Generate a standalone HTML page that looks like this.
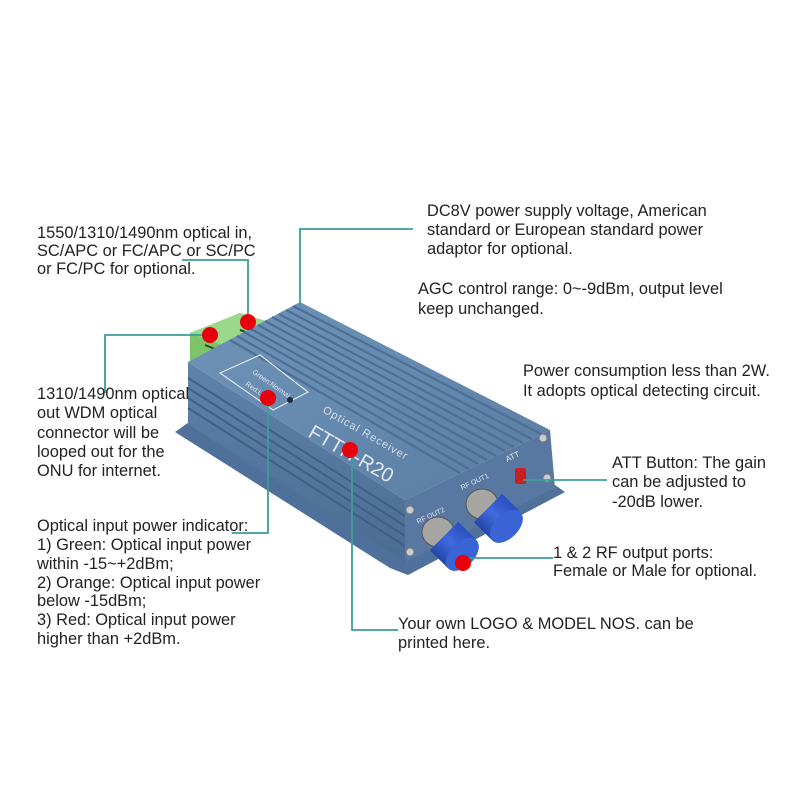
<!DOCTYPE html>
<html><head><meta charset="utf-8"><style>
html,body{margin:0;padding:0;background:#fff;}
svg{display:block}
text{font-family:"Liberation Sans",Arial,sans-serif;fill:#222;}
.t{font-size:16.4px;}
</style></head><body>
<svg width="800" height="800" viewBox="0 0 800 800" xmlns="http://www.w3.org/2000/svg">
<defs>
<linearGradient id="top" x1="0" y1="0" x2="1" y2="1">
<stop offset="0" stop-color="#7094b9"/><stop offset="1" stop-color="#5a7ca3"/></linearGradient>
<linearGradient id="side" x1="0" y1="0" x2="0" y2="1">
<stop offset="0" stop-color="#5f82aa"/><stop offset="1" stop-color="#4b6b92"/></linearGradient>
<linearGradient id="cap" x1="0" y1="0" x2="0" y2="1">
<stop offset="0" stop-color="#2a4fc0"/><stop offset="0.5" stop-color="#3f6ae0"/><stop offset="1" stop-color="#2446a8"/></linearGradient>
</defs>

<!-- flange -->
<polygon points="175,432 192,420 410,558 555,485 565,492 408,575 390,568" fill="#4f709a"/>
<polygon points="222,462 232,468 226,474 216,468" fill="#fff"/>
<polygon points="292,508 302,514 296,520 286,514" fill="#fff"/>
<!-- green connector -->
<polygon points="190,333 240,313 272,323 272,336 205,368 190,362" fill="#7cc36a"/>
<polygon points="190,333 240,313 272,323 222,345" fill="#9bd98a"/>
<line x1="205" y1="345" x2="230" y2="355" stroke="#2c4a2a" stroke-width="2"/>
<line x1="240" y1="330" x2="262" y2="338" stroke="#2c4a2a" stroke-width="2"/>
<!-- side face -->
<polygon points="188,362 405,500 405,562 188,424" fill="url(#side)"/>
<g stroke="#3f5f86" stroke-width="2">
<line x1="188" y1="378" x2="405" y2="516"/><line x1="188" y1="388" x2="405" y2="526"/>
<line x1="188" y1="398" x2="405" y2="536"/><line x1="188" y1="408" x2="405" y2="546"/>
</g>
<!-- top face -->
<polygon points="188,362 300,302 550,430 405,500" fill="url(#top)"/>
<g stroke="#4d6f97" stroke-width="2.2">
<line x1="293" y1="306" x2="541" y2="434"/><line x1="286" y1="310" x2="532" y2="439"/>
<line x1="279" y1="314" x2="523" y2="443"/><line x1="272" y1="317" x2="514" y2="447"/>
<line x1="265" y1="321" x2="505" y2="451"/><line x1="258" y1="325" x2="496" y2="456"/>
<line x1="251" y1="329" x2="487" y2="460"/><line x1="244" y1="332" x2="478" y2="464"/>
<line x1="237" y1="336" x2="469" y2="469"/><line x1="230" y1="340" x2="460" y2="473"/>
</g>
<!-- front face -->
<polygon points="405,500 550,430 555,488 405,562" fill="#5878a2"/>
<!-- label -->
<polygon points="220,373 260,355 308,392 273,410" fill="none" stroke="#dfe6ef" stroke-width="1.2"/>
<text transform="translate(252,373) rotate(35)" style="font-size:7px;fill:#dfe6ef">Green:Normal</text>
<text transform="translate(245,385) rotate(35)" style="font-size:7px;fill:#dfe6ef">Red:Lo</text>
<circle cx="290" cy="400" r="3" fill="#1c2a3a"/>
<text transform="translate(322,412) rotate(30)" style="font-size:11px;fill:#d6dde8;letter-spacing:1px">Optical Receiver</text>
<text transform="translate(307,436) rotate(30)" style="font-size:20px;fill:#e3e8f0">FTTH-R20</text>
<!-- screws -->
<circle cx="543" cy="438" r="4" fill="#c9ccd0" stroke="#777"/>
<circle cx="547" cy="478" r="4" fill="#c9ccd0" stroke="#777"/>
<circle cx="410" cy="510" r="4" fill="#c9ccd0" stroke="#777"/>
<circle cx="410" cy="552" r="4" fill="#c9ccd0" stroke="#777"/>
<text transform="translate(507,462) rotate(-25)" style="font-size:8px;fill:#e3e8f0">ATT</text>
<rect x="515" y="468" width="11" height="16" rx="2" fill="#c62020"/>
<text transform="translate(462,490) rotate(-25)" style="font-size:7px;fill:#e3e8f0">RF OUT1</text>
<text transform="translate(418,524) rotate(-25)" style="font-size:7px;fill:#e3e8f0">RF OUT2</text>
<!-- ports -->
<ellipse cx="482" cy="504" rx="16" ry="15" fill="#a5a5a2" stroke="#555"/>
<ellipse cx="438" cy="532" rx="16" ry="15" fill="#a5a5a2" stroke="#555"/>
<g transform="translate(488,508) rotate(45)">
<rect x="0" y="-20" width="26" height="40" fill="url(#cap)"/>
<ellipse cx="26" cy="0" rx="12" ry="20" fill="#3a64d6"/>
</g>
<g transform="translate(444,536) rotate(45)">
<rect x="0" y="-20" width="26" height="40" fill="url(#cap)"/>
<ellipse cx="26" cy="0" rx="12" ry="20" fill="#3a64d6"/>
</g>

<!-- connectors -->
<g stroke="#3b9e96" stroke-width="1.8" fill="none">
<polyline points="182,260 248,260 248,320"/>
<polyline points="105,393 105,335 210,335"/>
<polyline points="300,306 300,229 413,229"/>
<polyline points="268,398 268,533 232,533"/>
<polyline points="352,450 352,630 398,630"/>
<polyline points="523,480 607,480"/>
<polyline points="463,558 553,558"/>
</g>
<g fill="#e8000c">
<circle cx="248" cy="322" r="8"/><circle cx="210" cy="335" r="8"/>
<circle cx="268" cy="398" r="8"/><circle cx="350" cy="450" r="8"/>
<circle cx="463" cy="563" r="8"/>
</g>

<!-- texts -->
<g class="t">
<text x="37" y="238">1550/1310/1490nm optical in,</text>
<text x="37" y="256">SC/APC or FC/APC or SC/PC</text>
<text x="37" y="274">or FC/PC for optional.</text>

<text x="37" y="399">1310/1490nm optical</text>
<text x="37" y="418">out WDM optical</text>
<text x="37" y="438">connector will be</text>
<text x="37" y="457">looped out for the</text>
<text x="37" y="476">ONU for internet.</text>

<text x="37" y="531">Optical input power indicator:</text>
<text x="37" y="550">1) Green: Optical input power</text>
<text x="37" y="569">within -15~+2dBm;</text>
<text x="37" y="588">2) Orange: Optical input power</text>
<text x="37" y="606">below -15dBm;</text>
<text x="37" y="625">3) Red: Optical input power</text>
<text x="37" y="644">higher than +2dBm.</text>

<text x="427" y="216">DC8V power supply voltage, American</text>
<text x="427" y="235">standard or European standard power</text>
<text x="427" y="254">adaptor for optional.</text>

<text x="418" y="294">AGC control range: 0~-9dBm, output level</text>
<text x="418" y="314">keep unchanged.</text>

<text x="523" y="376">Power consumption less than 2W.</text>
<text x="523" y="396">It adopts optical detecting circuit.</text>

<text x="612" y="468">ATT Button: The gain</text>
<text x="612" y="487">can be adjusted to</text>
<text x="612" y="507">-20dB lower.</text>

<text x="553" y="558">1 &amp; 2 RF output ports:</text>
<text x="553" y="576">Female or Male for optional.</text>

<text x="398" y="629">Your own LOGO &amp; MODEL NOS. can be</text>
<text x="398" y="648">printed here.</text>
</g>
</svg>
</body></html>
